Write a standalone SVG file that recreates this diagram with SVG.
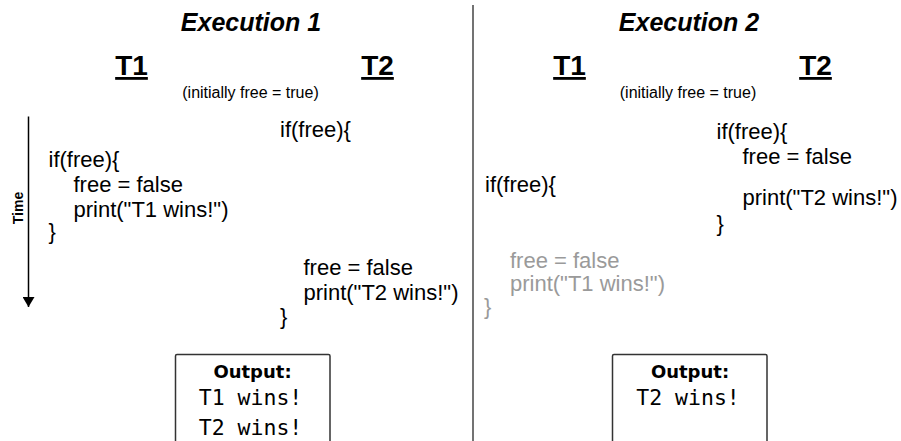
<svg xmlns="http://www.w3.org/2000/svg" width="901" height="441" viewBox="0 0 901 441">
<defs>
<style>
.title{font-family:"Liberation Sans",Arial,sans-serif;font-weight:bold;font-style:italic;font-size:25px;fill:#000;text-anchor:middle}
.thread{font-family:"Liberation Sans",Arial,sans-serif;font-weight:bold;font-size:28px;fill:#000;text-anchor:middle;text-decoration:underline}
.note{font-family:"Liberation Sans",Arial,sans-serif;font-size:16px;fill:#000;text-anchor:middle}
.code{font-family:"Liberation Sans",Arial,sans-serif;font-size:22px;fill:#000}
.gray{fill:#9a9a9a}
.time{font-family:"Liberation Sans",Arial,sans-serif;font-weight:bold;font-size:14px;fill:#000;text-anchor:middle}
.outbox{fill:#fff;stroke:#333;stroke-width:1.5}
.outhead{font-family:"DejaVu Sans",sans-serif;font-weight:bold;font-size:18px;fill:#000;text-anchor:middle}
.outtext{font-family:"DejaVu Sans Mono",monospace;font-size:21.5px;fill:#000;text-anchor:middle}
</style>
<marker id="arrow" markerWidth="10" markerHeight="12" refX="10" refY="6" orient="auto" markerUnits="userSpaceOnUse">
<path d="M0,0 L10,6 L0,12 Z" fill="#000"/>
</marker>
</defs>
<rect width="901" height="441" fill="#fff"/>

<g id="divider">
<line x1="473" y1="5" x2="473" y2="441" stroke="#444" stroke-width="1.5"/>
</g>

<g id="execution1">
<text class="title" x="251" y="31">Execution 1</text>
<text class="thread" x="131.5" y="75">T1</text>
<text class="thread" x="377.5" y="75">T2</text>
<text class="note" x="250.5" y="98">(initially free = true)</text>
</g>

<g id="execution2">
<text class="title" x="689" y="31">Execution 2</text>
<text class="thread" x="569.5" y="75">T1</text>
<text class="thread" x="815.5" y="75">T2</text>
<text class="note" x="688" y="98">(initially free = true)</text>
</g>

<g id="connectors">
<line x1="28.5" y1="116.5" x2="28.5" y2="307" stroke="#000" stroke-width="1.5" marker-end="url(#arrow)"/>
</g>
<g id="time-label">
<text class="time" transform="translate(23,208) rotate(-90)">Time</text>
</g>

<g id="e1-t1-code">
<text class="code" x="48.5" y="167">if(free){</text>
<text class="code" x="73.5" y="192">free = false</text>
<text class="code" x="73.5" y="217">print("T1 wins!")</text>
<text class="code" x="48.5" y="239">}</text>
</g>

<g id="e1-t2-code">
<text class="code" x="280" y="137">if(free){</text>
<text class="code" x="303.5" y="275">free = false</text>
<text class="code" x="303.5" y="300">print("T2 wins!")</text>
<text class="code" x="280" y="324">}</text>
</g>

<g id="e2-t2-code">
<text class="code" x="716.5" y="138.5">if(free){</text>
<text class="code" x="742.5" y="163.5">free = false</text>
<text class="code" x="742.5" y="205">print("T2 wins!")</text>
<text class="code" x="716.5" y="230.5">}</text>
</g>

<g id="e2-t1-code">
<text class="code" x="485" y="192">if(free){</text>
<text class="code gray" x="510" y="268">free = false</text>
<text class="code gray" x="510" y="291">print("T1 wins!")</text>
<text class="code gray" x="484" y="314">}</text>
</g>

<g id="output1">
<rect class="outbox" x="175.5" y="354.5" width="154.5" height="100" rx="1.5"/>
<text class="outhead" x="252.5" y="377.5">Output:</text>
<text class="outtext" x="250.5" y="405">T1 wins!</text>
<text class="outtext" x="250.5" y="435">T2 wins!</text>
</g>

<g id="output2">
<rect class="outbox" x="612.5" y="354.5" width="154.5" height="100" rx="1.5"/>
<text class="outhead" x="690" y="377.5">Output:</text>
<text class="outtext" x="688" y="405">T2 wins!</text>
</g>
</svg>
